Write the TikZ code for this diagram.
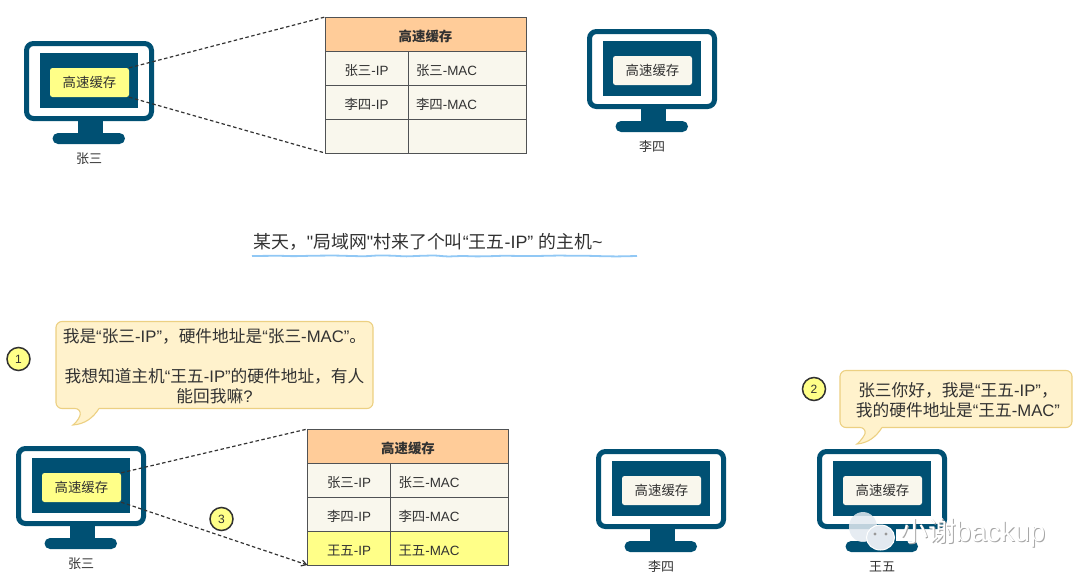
\documentclass[tikz,border=0pt]{standalone}
\usepackage{fontspec}
\setmainfont{Liberation Sans}
\newfontfamily\cjk{Noto Sans CJK SC}
\newfontfamily\rawsans{Liberation Sans}
\usetikzlibrary{positioning,decorations.pathmorphing,arrows.meta}

\definecolor{screenblue}{RGB}{0,80,115}
\definecolor{hiyellow}{RGB}{255,255,136}
\definecolor{cellpaper}{RGB}{249,247,237}
\definecolor{headorange}{RGB}{255,204,153}
\definecolor{bubblefill}{RGB}{255,242,204}
\definecolor{bubbleline}{RGB}{236,208,130}
\definecolor{gridgray}{RGB}{80,82,84}
\definecolor{inkgray}{RGB}{50,50,50}
\definecolor{wavyblue}{RGB}{145,200,245}
\definecolor{markpale}{RGB}{226,233,240}

\tikzset{
    pics/monitor/.style n args={2}{code={
        \draw[line width=5pt, draw=screenblue, fill=white, rounded corners=7pt] (2.5,2.5) rectangle (127.5,77.5);
        \fill[screenblue] (15.5,12) rectangle (114,67);
        \fill[screenblue] (54,78) rectangle (79,93);
        \fill[screenblue, rounded corners=5.5pt] (28.5,92) rectangle (101,103);
        \node[cache, fill=#2] (-cache) at (65.5,41.5) {{\cjk 高速缓存}};
        \node[txt] (-label) at (65,118) {{\cjk #1}};
    }}
}

\begin{document}
\begin{tikzpicture}[
        x=1pt, y=-1pt,
        every node/.style={text=inkgray},
        txt/.style={font=\fontsize{13}{15}\selectfont},
        cache/.style={rectangle, draw=none, rounded corners=2.5pt, minimum width=79pt, minimum height=29pt, inner sep=0pt, font=\fontsize{13.4}{15}\selectfont},
        header/.style={rectangle, draw=gridgray, line width=.9pt, fill=headorange, minimum width=201pt, minimum height=34pt, inner sep=0pt, outer sep=0pt, text height=14.5pt, text depth=0pt, font=\fontsize{13.4}{15}\selectfont\bfseries},
        keycell/.style={rectangle, draw=gridgray, line width=.9pt, fill=cellpaper, minimum width=83pt, minimum height=34pt, inner sep=0pt, outer sep=0pt, text height=14.5pt, text depth=0pt, font=\fontsize{13.4}{15}\selectfont},
        valcell/.style={keycell, minimum width=118pt, text width=102pt, align=left},
        bubble/.style={draw=bubbleline, line width=1.1pt, fill=bubblefill},
        saying/.style={align=center, inner sep=0pt, font=\fontsize{16.7}{20}\selectfont},
        badge/.style={circle, draw=inkgray, line width=1.5pt, fill=hiyellow, minimum size=23pt, inner sep=0pt, font=\fontsize{12}{14}\selectfont},
        dashline/.style={dash pattern=on 3.5pt off 2.5pt, line width=1.2pt, draw=inkgray, >={Straight Barb[length=5pt, width=6pt]}},
        sketchy/.style={decorate, decoration={random steps, segment length=14pt, amplitude=.6pt}, rounded corners=3pt}
        ]
        \useasboundingbox (0,0) rectangle (1080,582);

        % Top row
        \pic (zhangA) at (24,41) {monitor={张三}{hiyellow}};
        \pic (liA) at (587,29) {monitor={李四}{cellpaper}};

        \node[header] (headA) at (425.5,34) {{\cjk 高速缓存}};
        \node[keycell] (ipA) at (366.5,68) {{\cjk 张三}-IP};
        \node[valcell, right=0pt of ipA] (macA) {{\cjk 张三}-MAC};
        \node[keycell, below=0pt of ipA] (ipB) {{\cjk 李四}-IP};
        \node[valcell, right=0pt of ipB] (macB) {{\cjk 李四}-MAC};
        \node[keycell, below=0pt of ipB] (ipC) {};
        \node[valcell, right=0pt of ipC] (macC) {};

        \draw[dashline] (zhangA-cache.north east) -- (headA.north west);
        \draw[dashline] (zhangA-cache.south east) -- (ipC.south west);

        % Middle sentence
        \node[font=\fontsize{17.9}{21}\selectfont, anchor=west, inner sep=0pt] (title) at (253,242) {{\cjk 某天，}{\rawsans "}{\cjk 局域网}{\rawsans "}{\cjk 村来了个叫}“{\cjk 王五}-IP” {\cjk 的主机}\textasciitilde};
        \coordinate (lineL) at (252,256);
        \coordinate (lineR) at (637,256);
        \draw[sketchy, draw=wavyblue, line width=1.8pt] (lineL) -- (lineR);

        % Bottom row
        \pic (zhangB) at (16,446) {monitor={张三}{hiyellow}};
        \pic (liB) at (596,449) {monitor={李四}{cellpaper}};
        \pic (wang) at (817,449) {monitor={王五}{cellpaper}};

        \node[header] (headB) at (408,446) {{\cjk 高速缓存}};
        \node[keycell] (ipD) at (349,480) {{\cjk 张三}-IP};
        \node[valcell, right=0pt of ipD] (macD) {{\cjk 张三}-MAC};
        \node[keycell, below=0pt of ipD] (ipE) {{\cjk 李四}-IP};
        \node[valcell, right=0pt of ipE] (macE) {{\cjk 李四}-MAC};
        \node[keycell, fill=hiyellow, below=0pt of ipE] (ipF) {{\cjk 王五}-IP};
        \node[valcell, fill=hiyellow, right=0pt of ipF] (macF) {{\cjk 王五}-MAC};

        \draw[dashline] (zhangB-cache.north east) -- (headB.north west);
        \draw[dashline, ->] (zhangB-cache.south east) -- (ipF.south west);

        % Speech bubbles
        \draw[bubble, rounded corners=6pt] (99,408.5) -- (373,408.5) -- (373,321.5) -- (56,321.5) -- (56,408.5) -- (81,408.5)
            {[sharp corners] .. controls (80,416) and (78,421) .. (73,425) .. controls (85,424) and (93,418) .. (99,408.5)};
        \node[saying] (sayA) at (214.5,366) {{\cjk 我是}“{\cjk 张三}-IP”{\cjk ，硬件地址是}“{\cjk 张三}-MAC”{\cjk 。}\\[20pt]{\cjk 我想知道主机}“{\cjk 王五}-IP”{\cjk 的硬件地址，有人}\\{\cjk 能回我嘛}?};

        \draw[bubble, rounded corners=6pt] (882,427.5) -- (1072,427.5) -- (1072,370.5) -- (840,370.5) -- (840,427.5) -- (866,427.5)
            {[sharp corners] .. controls (865,434) and (862,440) .. (857,444) .. controls (868,443) and (876,437) .. (882,427.5)};
        \node[saying] (sayB) at (958,400) {{\cjk 张三你好，我是}“{\cjk 王五}-IP”{\cjk ，}\\{\cjk 我的硬件地址是}“{\cjk 王五}-MAC”};

        % Step numbers
        \node[badge] (one) at (18.5,359) {1};
        \node[badge] (two) at (814,389) {2};
        \node[badge] (three) at (221.5,519) {3};

        % Watermark
        \fill[markpale, fill opacity=.85] (863,527) ellipse (14pt and 15pt);
        \fill[markpale, draw=white, line width=1pt] (880.5,537.5) ellipse (14pt and 12.5pt);
        \fill[gray!80] (875,534) circle (1.6pt) (886,534) circle (1.6pt);
        \node[anchor=west, inner sep=0pt, text=gray!70, font=\fontsize{27.8}{30}\selectfont] at (901,534) {{\cjk 小谢}backup};
        \node[anchor=west, inner sep=0pt, text=white, font=\fontsize{27.8}{30}\selectfont] (mark) at (900,533) {{\cjk 小谢}backup};
\end{tikzpicture}
\end{document}
